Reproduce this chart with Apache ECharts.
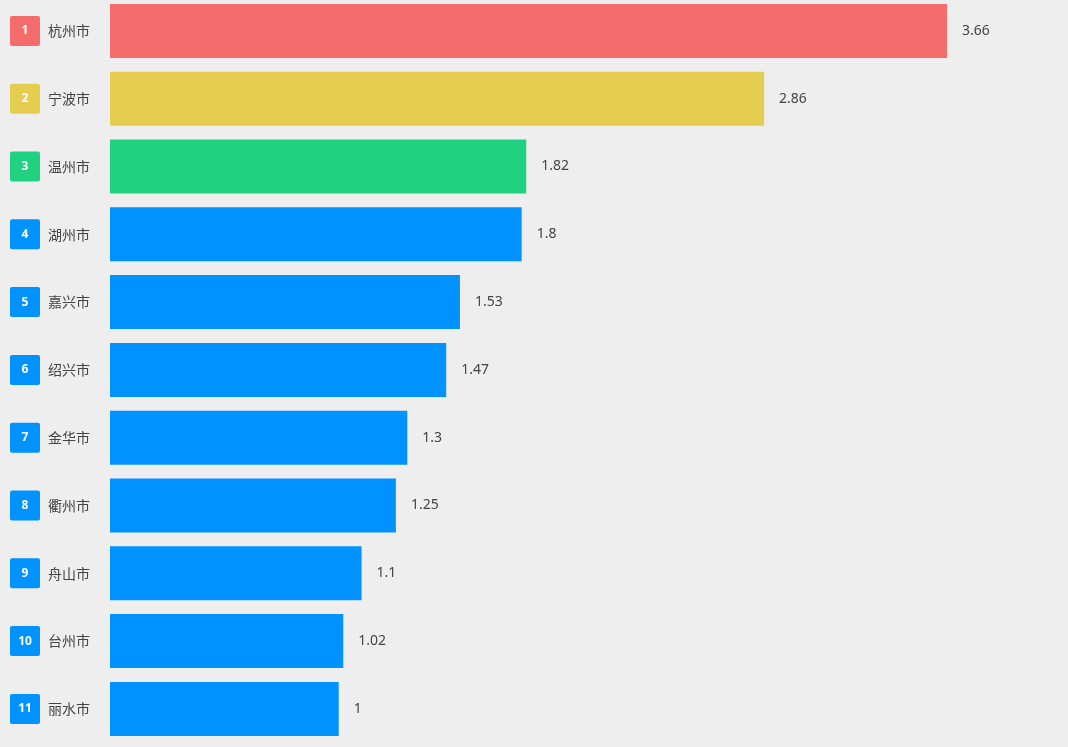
<!DOCTYPE html>
<html><head><meta charset="utf-8">
<script src="https://cdn.jsdelivr.net/npm/echarts@6/dist/echarts.min.js"></script>
<style>html,body{margin:0;padding:0;background:#eeeeee;}#c{width:1068px;height:747px;}</style>
</head><body><div id="c"></div>
<script>
const cities = ['杭州市','宁波市','温州市','湖州市','嘉兴市','绍兴市','金华市','衢州市','舟山市','台州市','丽水市'];
const values = [3.66, 2.86, 1.82, 1.8, 1.53, 1.47, 1.3, 1.25, 1.1, 1.02, 1];
const rankColors = ['#f56c6c', '#e5ce4f', '#20d27f'];
const defaultColor = '#0092ff';

const chart = echarts.init(document.getElementById('c'));
const rich = {
  name: {fontSize: 14, color: '#444', padding: [0, 0, 0, 8], fontFamily: 'Noto Sans CJK SC'}
};
for (let i = 0; i < cities.length; i++) {
  rich['b' + i] = {
    width: 30, height: 30, align: 'center', lineHeight: 30,
    backgroundColor: rankColors[i] || defaultColor, borderRadius: 2,
    color: '#fff', fontSize: 12, fontWeight: 'bold', fontFamily: 'Noto Sans'
  };
}
chart.setOption({
  backgroundColor: '#eeeeee',
  animation: false,
  grid: {left: 110, right: 43.2, top: -3, height: 745.8, outerBoundsMode: 'none', containLabel: false},
  xAxis: {type: 'value', min: 0, max: 4, show: false},
  yAxis: {
    type: 'category', inverse: true, data: cities,
    axisLine: {show: false}, axisTick: {show: false},
    axisLabel: {
      align: 'left', margin: 100,
      formatter: function (v, i) { return '{b' + i + '|' + (i + 1) + '}{name|' + v + '}'; },
      rich: rich
    }
  },
  series: [{
    type: 'bar', barWidth: 54,
    data: values.map((v, i) => ({value: v, itemStyle: {color: rankColors[i] || defaultColor}})),
    label: {show: true, position: 'right', distance: 15, color: '#444', fontSize: 14, fontFamily: 'Noto Sans'}
  }]
});
</script></body></html>
